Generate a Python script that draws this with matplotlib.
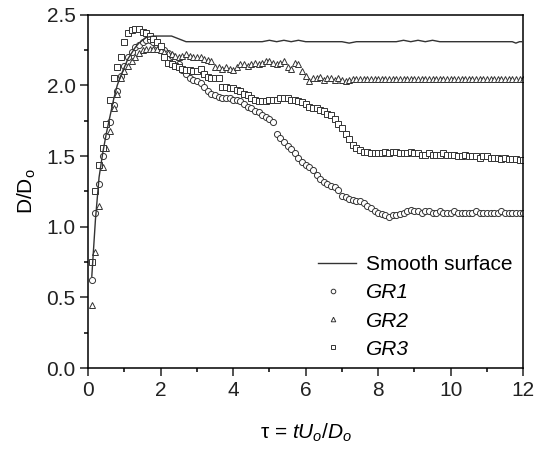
import numpy as np
import matplotlib
matplotlib.use("Agg")
import matplotlib.pyplot as plt
from matplotlib.ticker import MultipleLocator, FormatStrFormatter

plt.rcParams.update({
    "font.family": "Liberation Sans",
    "font.size": 14,
    "mathtext.fontset": "custom",
    "mathtext.rm": "Liberation Sans",
    "mathtext.it": "Liberation Sans:italic",
    "axes.linewidth": 1.1,
})

# measured tau grid for the rough-surface series
tau = np.round(np.arange(0.1, 12.05, 0.1), 2)

gr1 = [
    0.62, 1.10, 1.30, 1.50, 1.64, 1.74, 1.86, 1.96, 2.07, 2.14,
    2.20, 2.24, 2.27, 2.29, 2.31, 2.32, 2.32, 2.31, 2.29, 2.27,
    2.25, 2.23, 2.21, 2.18, 2.15, 2.11, 2.08, 2.05, 2.04, 2.03,
    2.02, 1.99, 1.96, 1.94, 1.93, 1.92, 1.91, 1.91, 1.91, 1.90,
    1.90, 1.89, 1.87, 1.85, 1.84, 1.82, 1.81, 1.79, 1.78, 1.76,
    1.74, 1.66, 1.63, 1.60, 1.57, 1.55, 1.52, 1.49, 1.46, 1.44,
    1.42, 1.40, 1.37, 1.34, 1.32, 1.30, 1.29, 1.28, 1.26, 1.22,
    1.21, 1.20, 1.19, 1.18, 1.18, 1.17, 1.15, 1.13, 1.11, 1.10,
    1.09, 1.08, 1.07, 1.08, 1.08, 1.09, 1.10, 1.11, 1.12, 1.11,
    1.11, 1.10, 1.11, 1.11, 1.10, 1.10, 1.11, 1.10, 1.10, 1.10,
    1.11, 1.10, 1.10, 1.10, 1.10, 1.10, 1.11, 1.10, 1.10, 1.10,
    1.10, 1.10, 1.10, 1.11, 1.10, 1.10, 1.10, 1.10, 1.10, 1.10,
]

gr2 = [
    0.45, 0.82, 1.15, 1.42, 1.56, 1.68, 1.84, 1.94, 2.05, 2.10,
    2.14, 2.17, 2.20, 2.23, 2.25, 2.26, 2.26, 2.26, 2.26, 2.25,
    2.24, 2.23, 2.22, 2.21, 2.20, 2.21, 2.22, 2.21, 2.20, 2.20,
    2.20, 2.19, 2.18, 2.17, 2.13, 2.13, 2.12, 2.13, 2.12, 2.11,
    2.13, 2.15, 2.15, 2.14, 2.15, 2.16, 2.15, 2.16, 2.17, 2.17,
    2.16, 2.15, 2.16, 2.17, 2.13, 2.12, 2.16, 2.15, 2.10, 2.07,
    2.03, 2.05, 2.05, 2.06, 2.04, 2.05, 2.05, 2.04, 2.05, 2.04,
    2.03, 2.04, 2.045, 2.045, 2.045, 2.045, 2.045, 2.045, 2.045, 2.045,
    2.045, 2.045, 2.045, 2.045, 2.045, 2.045, 2.045, 2.045, 2.045, 2.045,
    2.045, 2.045, 2.045, 2.045, 2.045, 2.045, 2.045, 2.045, 2.045, 2.045,
    2.045, 2.045, 2.045, 2.045, 2.045, 2.045, 2.045, 2.045, 2.045, 2.045,
    2.045, 2.045, 2.045, 2.045, 2.045, 2.045, 2.045, 2.045, 2.045, 2.045,
]

gr3 = [
    0.75, 1.25, 1.44, 1.56, 1.73, 1.90, 2.05, 2.13, 2.20, 2.31,
    2.37, 2.39, 2.40, 2.40, 2.38, 2.37, 2.35, 2.33, 2.31, 2.28,
    2.20, 2.16, 2.15, 2.14, 2.13, 2.12, 2.11, 2.11, 2.10, 2.10,
    2.12, 2.08, 2.06, 2.05, 2.05, 2.05, 1.99, 1.99, 1.98, 1.98,
    1.97, 1.96, 1.94, 1.93, 1.91, 1.90, 1.89, 1.89, 1.89, 1.90,
    1.90, 1.90, 1.91, 1.91, 1.91, 1.90, 1.90, 1.89, 1.88, 1.87,
    1.85, 1.84, 1.84, 1.83, 1.82, 1.80, 1.79, 1.76, 1.73, 1.70,
    1.66, 1.62, 1.58, 1.56, 1.54, 1.53, 1.53, 1.52, 1.52, 1.52,
    1.52, 1.53, 1.52, 1.53, 1.53, 1.52, 1.52, 1.52, 1.53, 1.52,
    1.52, 1.51, 1.51, 1.52, 1.51, 1.51, 1.51, 1.52, 1.51, 1.51,
    1.51, 1.50, 1.50, 1.51, 1.50, 1.50, 1.50, 1.49, 1.50, 1.50,
    1.49, 1.49, 1.49, 1.48, 1.49, 1.48, 1.48, 1.48, 1.47, 1.47,
]

smooth_tau = [0.1, 0.2, 0.3, 0.4, 0.5, 0.6, 0.7, 0.8, 0.9, 1.0,
              1.1, 1.2, 1.3, 1.4, 1.5, 1.6, 1.8, 2.0, 2.3, 2.5,
              2.6, 2.7, 3.0, 4.0, 4.8, 5.0, 5.2, 5.4, 5.6, 5.8,
              6.0, 6.2, 7.0, 7.2, 7.4, 8.5, 8.7, 8.9, 9.1, 9.3,
              9.5, 9.7, 9.9, 11.0, 11.7, 11.8, 11.9, 12.0]
smooth = [0.65, 1.05, 1.35, 1.52, 1.66, 1.78, 1.90, 2.00, 2.07, 2.13,
          2.19, 2.23, 2.27, 2.30, 2.32, 2.34, 2.35, 2.35, 2.35, 2.33,
          2.32, 2.31, 2.31, 2.31, 2.31, 2.32, 2.31, 2.32, 2.31, 2.32,
          2.31, 2.31, 2.31, 2.30, 2.31, 2.31, 2.32, 2.31, 2.32, 2.31,
          2.32, 2.31, 2.31, 2.31, 2.31, 2.30, 2.31, 2.31]

fig = plt.figure(figsize=(5.41, 4.5), dpi=100)
ax = fig.add_axes([0.163, 0.182, 0.804, 0.785])

c = "#333333"
mk = dict(linestyle="none", markersize=4.4, markerfacecolor="white",
          markeredgecolor=c, markeredgewidth=0.7)

ax.plot(smooth_tau, smooth, color=c, linewidth=1.0, label="Smooth surface", zorder=4)
ax.plot(tau, gr1, marker="o", label="GR1", **mk)
ax.plot(tau, gr2, marker="^", label="GR2", **mk)
ax.plot(tau, gr3, marker="s", label="GR3", **mk)

ax.set_xlim(0, 12)
ax.set_ylim(0, 2.5)
ax.xaxis.set_major_locator(MultipleLocator(2))
ax.xaxis.set_minor_locator(MultipleLocator(1))
ax.yaxis.set_major_locator(MultipleLocator(0.5))
ax.yaxis.set_minor_locator(MultipleLocator(0.25))
ax.yaxis.set_major_formatter(FormatStrFormatter("%.1f"))
ax.tick_params(which="major", direction="out", length=6, width=1.1,
               labelsize=15, colors="#222222", pad=3)
ax.tick_params(which="minor", direction="out", length=3, width=1.1)

ax.set_xlabel(r"τ = $\it{tU_o/D_o}$", fontsize=15, labelpad=16)
ax.set_ylabel(r"D/D$_\mathrm{o}$", fontsize=15, labelpad=6)

leg = ax.legend(loc="lower right", bbox_to_anchor=(1.0, -0.003), frameon=False,
                fontsize=15, handlelength=1.8, handletextpad=0.5,
                labelspacing=0.44, markerscale=0.75, borderaxespad=0.1)
for t in leg.get_texts()[1:]:
    t.set_fontstyle("italic")
# markers in the key sit toward the left of the handle slot
for h in leg.legend_handles[1:]:
    h.set_xdata(np.asarray(h.get_xdata()) - 3)

fig.savefig("out.png", dpi=100)
plt.close(fig)
